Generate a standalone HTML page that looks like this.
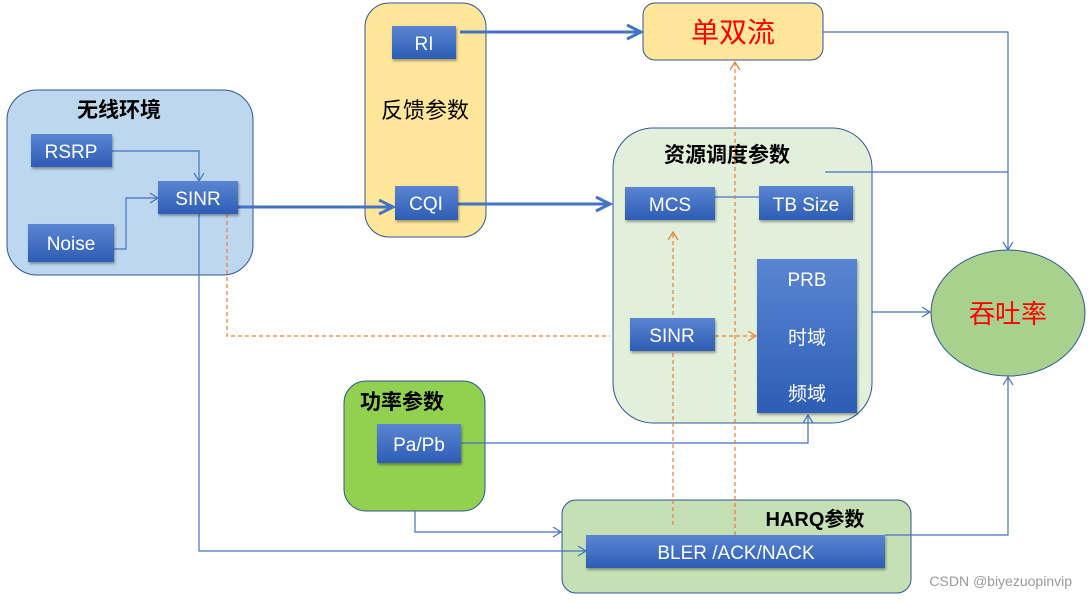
<!DOCTYPE html>
<html><head><meta charset="utf-8"><style>
body{margin:0;background:#fff;}
svg text{font-family:"Liberation Sans","Noto Sans CJK SC",sans-serif;}
</style></head><body>
<svg width="1088" height="599" viewBox="0 0 1088 599" xmlns="http://www.w3.org/2000/svg">
<defs>
<linearGradient id="g" x1="0" y1="0" x2="0" y2="1"><stop offset="0" stop-color="#5a85d2"/><stop offset="1" stop-color="#2d5db5"/></linearGradient>
<filter id="s" x="-10%" y="-10%" width="130%" height="140%"><feDropShadow dx="1" dy="2" stdDeviation="1.2" flood-color="#000" flood-opacity="0.35"/></filter>
<marker id="a" markerWidth="12" markerHeight="12" refX="9" refY="5" orient="auto" markerUnits="userSpaceOnUse"><path d="M1,0 L9,5 L1,10" fill="none" stroke="#4472c4" stroke-width="1.2"/></marker>
<marker id="ab" markerWidth="20" markerHeight="20" refX="16" refY="8" orient="auto" markerUnits="userSpaceOnUse"><path d="M2,1 L16,8 L2,15" fill="none" stroke="#4472c4" stroke-width="3"/></marker>
<marker id="ao" markerWidth="12" markerHeight="12" refX="9" refY="5" orient="auto" markerUnits="userSpaceOnUse"><path d="M1,0 L9,5 L1,10" fill="none" stroke="#ed7d31" stroke-width="1.2"/></marker>
</defs>
<!-- containers -->
<rect x="7" y="90" width="246" height="185" rx="30" fill="#bdd7ee" stroke="#2f5597" stroke-width="1"/>
<rect x="365" y="3" width="121" height="234" rx="24" fill="#ffe699" stroke="#2f5597" stroke-width="1"/>
<rect x="643" y="3" width="180" height="57" rx="12" fill="#ffe699" stroke="#2f5597" stroke-width="1"/>
<rect x="613" y="128" width="259" height="295" rx="40" fill="#e2efda" stroke="#2f5597" stroke-width="1"/>
<ellipse cx="1008" cy="313" rx="77" ry="63" fill="#a9d18e" stroke="#2f5597" stroke-width="1"/>
<rect x="344" y="381" width="141" height="130" rx="22" fill="#92d050" stroke="#2f5597" stroke-width="1"/>
<rect x="562" y="500" width="349" height="93" rx="14" fill="#c5e0b4" stroke="#2f5597" stroke-width="1"/>
<!-- container titles -->
<text x="119" y="117" font-size="21" font-weight="bold" text-anchor="middle" fill="#000">无线环境</text>
<text x="425" y="118" font-size="22" text-anchor="middle" fill="#000">反馈参数</text>
<text x="727" y="162" font-size="21" font-weight="bold" text-anchor="middle" fill="#000">资源调度参数</text>
<text x="402" y="409" font-size="21" font-weight="bold" text-anchor="middle" fill="#000">功率参数</text>
<text x="815" y="526" font-size="20" font-weight="bold" text-anchor="middle" fill="#000">HARQ参数</text>
<text x="733" y="42" font-size="28" text-anchor="middle" fill="#ff0000">单双流</text>
<text x="1008" y="323" font-size="26" text-anchor="middle" fill="#ff0000">吞吐率</text>
<!-- lines -->
<g fill="none" stroke="#4472c4" stroke-width="1.2">
<path d="M112,151 H199 V181" marker-end="url(#a)"/>
<path d="M114,249 H126 V198 H158" marker-end="url(#a)"/>
<path d="M823,32 H1008 V250" marker-end="url(#a)"/>
<path d="M825,172 H1008"/>
<path d="M700,197 H790"/>
<path d="M872,312 H930" marker-end="url(#a)"/>
<path d="M461,443 H808 V415" marker-end="url(#a)"/>
<path d="M415,511 V532 H561" marker-end="url(#a)"/>
<path d="M199,214 V551 H586" marker-end="url(#a)"/>
<path d="M885,535 H1008 V377" marker-end="url(#a)"/>
</g>
<g fill="none" stroke="#4472c4" stroke-width="3">
<path d="M238,207 H393" marker-end="url(#ab)"/>
<path d="M458,204 H610" marker-end="url(#ab)"/>
<path d="M460,32 H641" marker-end="url(#ab)"/>
</g>
<g fill="none" stroke="#ed7d31" stroke-width="1.2" stroke-dasharray="4,3">
<path d="M227,214 V336 H610"/>
<path d="M715,336 H756" marker-end="url(#ao)"/>
<path d="M673,525 V232" marker-end="url(#ao)"/>
<path d="M735,535 V62" marker-end="url(#ao)"/>
</g>
<!-- blue boxes -->
<g filter="url(#s)" fill="url(#g)">
<rect x="31" y="134" width="81" height="33"/>
<rect x="28" y="224" width="86" height="38"/>
<rect x="158" y="181" width="80" height="33"/>
<rect x="392" y="26" width="64" height="33"/>
<rect x="395" y="186" width="63" height="34"/>
<rect x="625" y="187" width="90" height="33"/>
<rect x="759" y="186" width="94" height="34"/>
<rect x="757" y="259" width="100" height="154"/>
<rect x="630" y="318" width="85" height="33"/>
<rect x="377" y="424" width="84" height="39"/>
<rect x="586" y="535" width="299" height="33"/>
</g>
<g fill="#fff" font-size="19" text-anchor="middle">
<text x="71" y="158">RSRP</text>
<text x="71" y="250">Noise</text>
<text x="198" y="205">SINR</text>
<text x="424" y="50">RI</text>
<text x="426" y="210">CQI</text>
<text x="670" y="211">MCS</text>
<text x="806" y="211">TB Size</text>
<text x="807" y="286">PRB</text>
<text x="807" y="344">时域</text>
<text x="807" y="400">频域</text>
<text x="672" y="342">SINR</text>
<text x="419" y="451">Pa/Pb</text>
<text x="736" y="559">BLER /ACK/NACK</text>
</g>
<text x="1072" y="586" font-size="14" text-anchor="end" fill="#999">CSDN @biyezuopinvip</text>
</svg>
</body></html>
